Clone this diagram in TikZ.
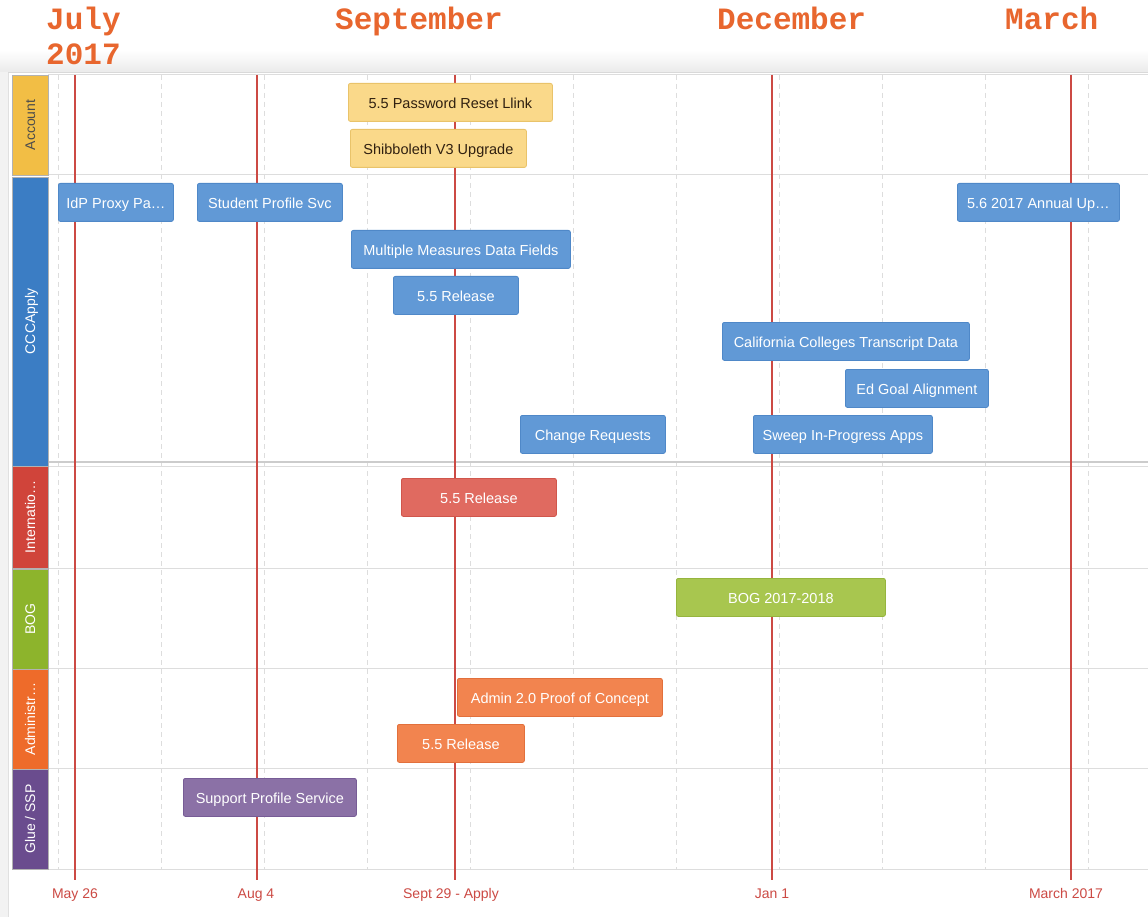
\documentclass[tikz,border=0pt]{standalone}
\usepackage{fontspec}
\setmainfont{Liberation Sans}
\newfontfamily\hdrfont{Liberation Mono}
\usetikzlibrary{shadings}
\definecolor{hdr}{HTML}{E8662E}
\definecolor{laneAcc}{HTML}{F2BE45}
\definecolor{laneCCC}{HTML}{3B7DC4}
\definecolor{laneInt}{HTML}{D0443A}
\definecolor{laneBOG}{HTML}{8DB42C}
\definecolor{laneAdm}{HTML}{EE6B2A}
\definecolor{laneGlu}{HTML}{6A4C8E}
\definecolor{barY}{HTML}{FAD98A}\definecolor{barYd}{HTML}{E9C36A}
\definecolor{barB}{HTML}{6199D6}\definecolor{barBd}{HTML}{4F88C8}
\definecolor{barR}{HTML}{E06A60}\definecolor{barRd}{HTML}{D0564C}
\definecolor{barG}{HTML}{A8C64F}\definecolor{barGd}{HTML}{96B53E}
\definecolor{barO}{HTML}{F2844F}\definecolor{barOd}{HTML}{E2703C}
\definecolor{barP}{HTML}{8B71A6}\definecolor{barPd}{HTML}{775C96}
\definecolor{redline}{HTML}{CC4A44}
\definecolor{gridgray}{HTML}{DDDDDD}
\tikzset{
  hdrtext/.style={font=\hdrfont\bfseries\fontsize{31}{33}\selectfont, text=hdr, anchor=base west, inner sep=0},
  bar/.style={rounded corners=2pt, minimum height=38pt, inner sep=0, text=white, line width=0.8pt,
    font=\fontsize{14.5}{16}\selectfont, text height=12pt, text depth=0pt, anchor=north west},
  ybar/.style={bar, fill=barY, draw=barYd, text={black!75!brown}},
  bbar/.style={bar, fill=barB, draw=barBd},
  rbar/.style={bar, fill=barR, draw=barRd},
  gbar/.style={bar, fill=barG, draw=barGd},
  obar/.style={bar, fill=barO, draw=barOd},
  pbar/.style={bar, fill=barP, draw=barPd},
  lanelab/.style={rotate=90, minimum height=36pt, inner sep=0, text=white, font=\fontsize{14}{16}\selectfont,
    text height=10pt, text depth=0pt, draw=gray!60, line width=0.5pt},
  axlab/.style={text=redline, font=\fontsize{14}{16}\selectfont, anchor=base, inner sep=0},
  mline/.style={redline, line width=1.3pt},
  dline/.style={gridgray, line width=0.9pt, dash pattern=on 5pt off 4pt},
  hline/.style={gridgray, line width=1pt}
}
\begin{document}
\begin{tikzpicture}[x=1pt,y=-1pt]
\useasboundingbox (0,0) rectangle (1148,917);
\fill[white] (0,0) rectangle (1148,917);
% left margin and top shade
\fill[black!5] (0,72) rectangle (8,917);
\shade[top color=white, bottom color=black!8] (0,50) rectangle (1148,72);
\draw[black!12, line width=0.8pt] (8,72) -- (8,917);
\draw[black!15, line width=1pt] (8,73) -- (1148,73);

% headers
\node[hdrtext] (hJul) at (46,30) {July};
\node[hdrtext] (h2017) at (46,65) {2017};
\node[hdrtext] (hSep) at (335,30) {September};
\node[hdrtext] (hDec) at (717,30) {December};
\node[hdrtext] (hMar) at (1005,30) {March};

% dashed grid
\foreach \x in {58,161,264,367,470,573,676,779,882,985,1088}
  \draw[dline] (\x,75) -- (\x,869);
% lane lines
\foreach \y in {75,175,568,668,768,869}
  \draw[hline] (48,\y) -- (1148,\y);
\draw[black!20, line width=1.2pt] (12,462) -- (1148,462);
\draw[hline] (48,466) -- (1148,466);

% lane labels
\node[lanelab, fill=laneAcc, minimum width=100pt, text=black!70] (lAcc) at (30,125) {Account};
\node[lanelab, fill=laneCCC, minimum width=289pt] (lCCC) at (30,321.5) {CCCApply};
\node[lanelab, fill=laneInt, minimum width=102pt] (lInt) at (30,517) {Internatio…};
\node[lanelab, fill=laneBOG, minimum width=100pt] (lBOG) at (30,619) {BOG};
\node[lanelab, fill=laneAdm, minimum width=100pt] (lAdm) at (30,719) {Administr…};
\node[lanelab, fill=laneGlu, minimum width=100pt] (lGlu) at (30,819) {Glue / SSP};

% milestone lines
\coordinate (m1t) at (75,75);   \coordinate (m1b) at (75,880);
\coordinate (m2t) at (257,75);  \coordinate (m2b) at (257,880);
\coordinate (m3t) at (455,75);  \coordinate (m3b) at (455,880);
\coordinate (m4t) at (772,75);  \coordinate (m4b) at (772,880);
\coordinate (m5t) at (1071,75); \coordinate (m5b) at (1071,880);
\draw[mline] (m1t) -- (m1b);
\draw[mline] (m2t) -- (m2b);
\draw[mline] (m3t) -- (m3b);
\draw[mline] (m4t) -- (m4b);
\draw[mline] (m5t) -- (m5b);

% bars: Account
\node[ybar, minimum width=204pt] (a1) at (348,83) {5.5 Password Reset Llink};
\node[ybar, minimum width=176pt] (a2) at (350,129) {Shibboleth V3 Upgrade};
% CCCApply
\node[bbar, minimum width=115pt] (c1) at (58,183) {IdP Proxy Pa…};
\node[bbar, minimum width=145pt] (c2) at (197,183) {Student Profile Svc};
\node[bbar, minimum width=162pt] (c3) at (957,183) {5.6 2017 Annual Up…};
\node[bbar, minimum width=219pt] (c4) at (351,230) {Multiple Measures Data Fields};
\node[bbar, minimum width=125pt] (c5) at (393,276) {5.5 Release};
\node[bbar, minimum width=247pt] (c6) at (722,322) {California Colleges Transcript Data};
\node[bbar, minimum width=143pt] (c7) at (845,369) {Ed Goal Alignment};
\node[bbar, minimum width=145pt] (c8) at (520,415) {Change Requests};
\node[bbar, minimum width=179pt] (c9) at (753,415) {Sweep In-Progress Apps};
% International
\node[rbar, minimum width=155pt] (i1) at (401,478) {5.5 Release};
% BOG
\node[gbar, minimum width=209pt] (b1) at (676,578) {BOG 2017-2018};
% Admin
\node[obar, minimum width=205pt] (d1) at (457,678) {Admin 2.0 Proof of Concept};
\node[obar, minimum width=127pt] (d2) at (397,724) {5.5 Release};
% Glue
\node[pbar, minimum width=173pt] (g1) at (183,778) {Support Profile Service};

% axis labels
\node[axlab] (x1) at (75,898) {May 26};
\node[axlab] (x2) at (256,898) {Aug 4};
\node[axlab] (x3) at (451,898) {Sept 29 - Apply};
\node[axlab] (x4) at (772,898) {Jan 1};
\node[axlab] (x5) at (1066,898) {March 2017};
\end{tikzpicture}
\end{document}
